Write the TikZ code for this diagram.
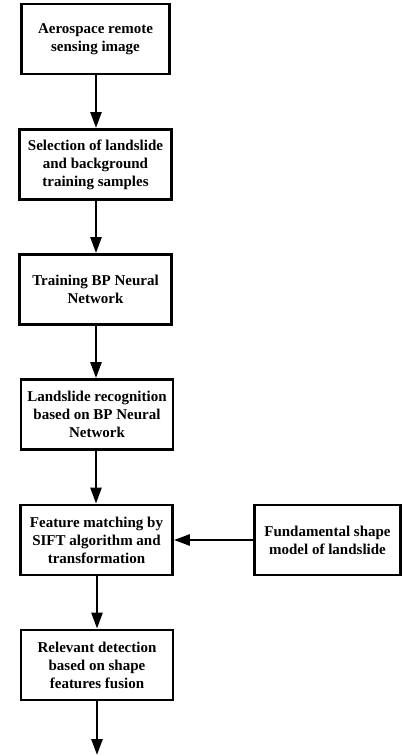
\documentclass[tikz,border=0pt]{standalone}
\usepackage{fontspec}
\setmainfont{Liberation Serif}
\usetikzlibrary{arrows.meta}
\begin{document}
\begin{tikzpicture}[x=1pt,y=1pt,
  box/.style={draw,line width=2.8pt,rectangle,minimum width=152pt,minimum height=70pt,align=center,inner sep=2pt,
    font=\fontsize{15}{18}\selectfont\bfseries},
  arr/.style={line width=2.5pt,-{Triangle[length=16pt,width=11pt]}}]
\useasboundingbox (0,0) rectangle (403,-756);
\node[box,minimum width=148pt] (b1) at (95.5,-39) {Aerospace remote\\sensing image};
\node[box] (b2) at (95.5,-164.5) {Selection of landslide\\and background\\training samples};
\node[box] (b3) at (95.5,-289.5) {Training BP Neural\\Network};
\node[box] (b4) at (97,-414.5) {Landslide recognition\\based on BP Neural\\Network};
\node[box] (b5) at (96.5,-540) {Feature matching by\\SIFT algorithm and\\transformation};
\node[box,minimum width=146pt] (b6) at (327.5,-540) {Fundamental shape\\model of landslide};
\node[box] (b7) at (97,-665) {Relevant detection\\based on shape\\features fusion};
\coordinate (end) at (97,-755);
\draw[arr] (b1.south -| 96,0) -- (96,-128);
\draw[arr] (b2.south -| 96,0) -- (b3.north -| 96,0);
\draw[arr] (b3.south -| 96,0) -- (b4.north -| 96,0);
\draw[arr] (b4.south -| 96,0) -- (b5.north -| 96,0);
\draw[arr] (b6.west) -- (b5.east);
\draw[arr] (b5.south -| 97,0) -- (b7.north -| 97,0);
\draw[arr] (b7.south -| 97,0) -- (end);
\end{tikzpicture}
\end{document}
